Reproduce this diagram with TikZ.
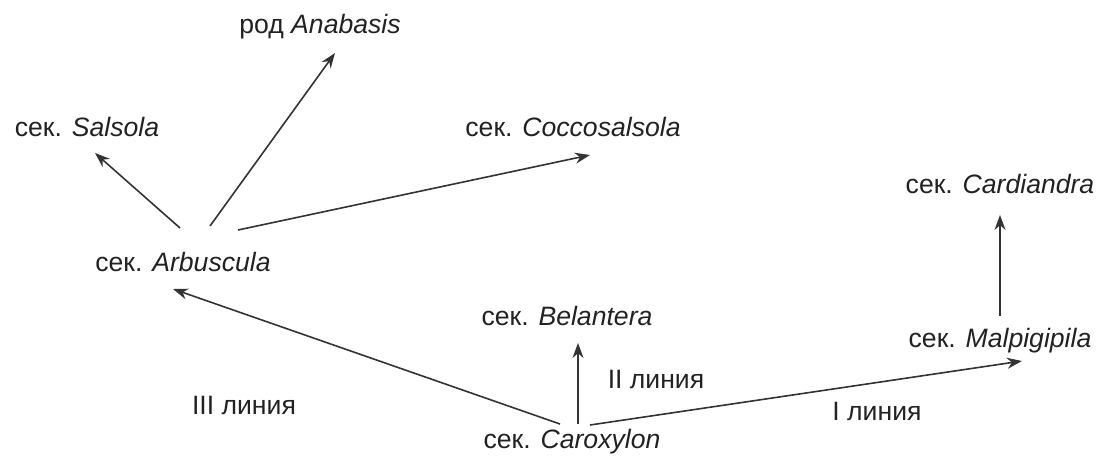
\documentclass[tikz,border=0pt]{standalone}
\usepackage{fontspec}
\setmainfont{Liberation Sans}
\usetikzlibrary{arrows.meta,calc}
\definecolor{ink}{HTML}{222222}
\definecolor{edge}{HTML}{333333}
\begin{document}
\begin{tikzpicture}[x=0.5pt,y=-0.5pt,
  lbl/.style={inner sep=0pt,text=ink,font=\fontsize{13.3}{16}\selectfont},
  arr/.style={draw=edge,line width=0.8pt,-{Stealth[length=7.5pt,width=5.5pt]}}]
\useasboundingbox (0,0) rectangle (1102,457);
\node[lbl] (ana) at (320,27) {род \textit{Anabasis}};
\node[lbl] (sal) at (87,127) {сек. \textit{Salsola}};
\node[lbl] (coc) at (573,127) {сек. \textit{Coccosalsola}};
\node[lbl] (card) at (1000,184) {сек. \textit{Cardiandra}};
\node[lbl] (arb) at (183,262) {сек. \textit{Arbuscula}};
\node[lbl] (bel) at (567,316) {сек. \textit{Belantera}};
\node[lbl] (mal) at (1000,341) {сек. \textit{Malpigipila}};
\node[lbl] (car) at (572,442) {сек. \textit{Caroxylon}};
\node[lbl] (l3) at (244,405) {III линия};
\node[lbl] (l2) at (656,379) {II линия};
\node[lbl] (l1) at (877,411) {I линия};
\draw[arr] ($(arb)+(-3,-34)$) -- ($(sal)+(8,26)$);
\draw[arr] ($(arb)+(27,-36)$) -- ($(ana)+(15,26)$);
\draw[arr] ($(arb)+(55,-32)$) -- ($(coc)+(17,28)$);
\draw[arr] ($(car)+(-12,-18)$) -- ($(arb)+(-10,27)$);
\draw[arr] ($(car)+(6,-18)$) -- ($(bel)+(11,27)$);
\draw[arr] ($(car)+(18,-17)$) -- ($(mal)+(22,20)$);
\draw[arr] ($(mal)+(0,-25)$) -- ($(card)+(0,31)$);
\end{tikzpicture}
\end{document}
